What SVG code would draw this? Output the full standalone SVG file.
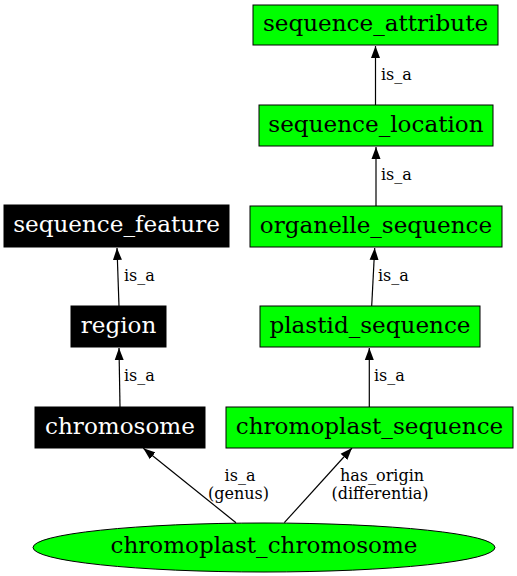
<svg xmlns="http://www.w3.org/2000/svg" width="517" height="576" viewBox="0 0 517 576">
<style>
.n text{font-family:"DejaVu Serif",serif;font-size:23.1px;text-anchor:middle}
.g rect,.g ellipse{fill:#00ff00;stroke:#000;stroke-width:1}
.b rect{fill:#000;stroke:#000}
.b text{fill:#fff}
.e path{fill:none;stroke:#000;stroke-width:1.2}
.e text{font-family:"DejaVu Serif",serif;font-size:16px;fill:#000}
.lm{text-anchor:middle}
</style>
<defs>
<marker id="ah" markerWidth="12" markerHeight="10" refX="12" refY="5" orient="auto" markerUnits="userSpaceOnUse">
<path d="M0,0.5 L12,5 L0,9.5 Z" fill="#000"/>
</marker>
</defs>
<rect width="517" height="576" fill="#fff"/>
<g class="e" id="edges">
<path d="M375.5,105 L375.5,46" marker-end="url(#ah)"/>
<text x="381" y="80">is_a</text>
<path d="M376,206 L376,147" marker-end="url(#ah)"/>
<text x="381" y="180">is_a</text>
<path d="M371.7,306 L374.7,248" marker-end="url(#ah)"/>
<text x="378" y="281">is_a</text>
<path d="M369.3,407 L369.3,348" marker-end="url(#ah)"/>
<text x="374" y="381">is_a</text>
<path d="M119,306 L117,248" marker-end="url(#ah)"/>
<text x="124" y="281">is_a</text>
<path d="M120,407 L119,348" marker-end="url(#ah)"/>
<text x="124" y="381">is_a</text>
<path d="M236,522.7 L143.3,448.3" marker-end="url(#ah)"/>
<text class="lm" x="240" y="481">is_a</text>
<text class="lm" x="238.5" y="498.5">(genus)</text>
<path d="M284.3,522.7 L352,448" marker-end="url(#ah)"/>
<text class="lm" x="382" y="481">has_origin</text>
<text class="lm" x="380" y="498.5">(differentia)</text>
</g>
<g class="n g" id="sequence_attribute"><rect x="253" y="5" width="245" height="40"/><text x="375.5" y="31">sequence_attribute</text></g>
<g class="n g" id="sequence_location"><rect x="259" y="105" width="234" height="41"/><text x="376" y="131.5">sequence_location</text></g>
<g class="n g" id="organelle_sequence"><rect x="250" y="206" width="252" height="41"/><text x="376" y="232.5">organelle_sequence</text></g>
<g class="n g" id="plastid_sequence"><rect x="260" y="306" width="220" height="41"/><text x="370" y="332.5">plastid_sequence</text></g>
<g class="n g" id="chromoplast_sequence"><rect x="226" y="407" width="287" height="41"/><text x="369.5" y="433.5">chromoplast_sequence</text></g>
<g class="n b" id="sequence_feature"><rect x="4" y="205" width="225" height="42"/><text x="116.5" y="232">sequence_feature</text></g>
<g class="n b" id="region"><rect x="71" y="306" width="95" height="41"/><text x="118.5" y="332.5">region</text></g>
<g class="n b" id="chromosome"><rect x="35" y="407" width="170" height="41"/><text x="120" y="433.5">chromosome</text></g>
<g class="n g" id="chromoplast_chromosome"><ellipse cx="264" cy="547.5" rx="231" ry="24.5"/><text x="264" y="553">chromoplast_chromosome</text></g>
</svg>
